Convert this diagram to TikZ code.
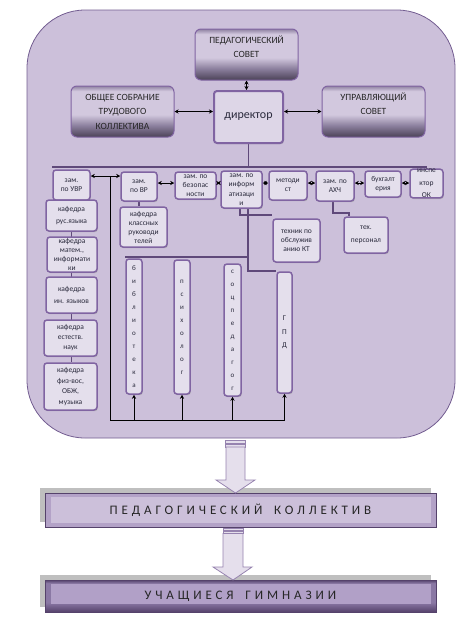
\documentclass[tikz,border=0pt]{standalone}
\usepackage{fontspec}
\setmainfont{Carlito}
\usetikzlibrary{arrows.meta,shadows,backgrounds}
\definecolor{panelfill}{HTML}{CCC0DA}
\definecolor{panelline}{HTML}{735D91}
\definecolor{boxfill}{HTML}{E4DFEC}
\definecolor{headfill}{HTML}{DDD6E7}
\definecolor{boxline}{HTML}{8064A2}
\definecolor{busline}{HTML}{5F497A}
\definecolor{inktext}{HTML}{2A2A3C}
\definecolor{shbottom}{HTML}{4B4257}
\definecolor{shlow}{HTML}{8A7E9C}
\definecolor{shlight}{HTML}{D2C8DE}
\definecolor{shtop}{HTML}{8F82A1}
\definecolor{bandfill}{HTML}{B3A2C7}
\definecolor{bandinner}{HTML}{CCC0DA}
\definecolor{pupilinner}{HTML}{B1A0C7}
\definecolor{banddark}{HTML}{55426B}
\definecolor{bandmid}{HTML}{8A78A4}
\definecolor{bandshadow}{HTML}{BFBFBF}
\definecolor{arrowfill}{HTML}{E5DFEC}
\definecolor{arrowline}{HTML}{9683AF}
\pgfdeclareverticalshading{council}{100bp}{color(0bp)=(shbottom); color(25bp)=(shbottom); color(36bp)=(shlow); color(47bp)=(shlight); color(70bp)=(shlight); color(75bp)=(shtop); color(100bp)=(shtop)}
\pgfdeclareverticalshading{pupils}{100bp}{color(0bp)=(banddark); color(25bp)=(banddark); color(40bp)=(bandmid); color(70bp)=(bandmid); color(75bp)=(banddark); color(100bp)=(banddark)}
\begin{document}
\begin{tikzpicture}[x = 1pt, y = -1pt, >= {Stealth[length = 4pt, width = 4pt]},
  box/.style = {draw = boxline, line width = 1.5pt, rounded corners = 3pt, fill = boxfill, align = center, inner sep = 0pt, text = inktext, font = \fontsize{7.5}{9}\selectfont, drop shadow = {shadow xshift = 0.8pt, shadow yshift = -1.2pt, fill = black!35, opacity = 0.7}},
  airy/.style = {box, font = \fontsize{7.5}{12.5}\selectfont},
  tall/.style = {box, font = \fontsize{7}{13}\selectfont, minimum width = 16pt},
  council/.style = {draw = boxline, line width = 1pt, rounded corners = 6pt, shading = council, align = center, inner sep = 0pt, text = black!85, font = \fontsize{9.5}{14.5}\selectfont, minimum width = 103pt, minimum height = 51pt},
  link/.style = {<->, black, line width = 0.6pt},
  feed/.style = {->, black, line width = 0.6pt},
  trunk/.style = {draw = busline, line width = 1.7pt},
  blockarrow/.style = {fill = arrowfill, draw = arrowline, line width = 0.8pt}]
\useasboundingbox (0,0) rectangle (469,630);
\node[council] (pedsov) at (246.5,54.5) {ПЕДАГОГИЧЕСКИЙ\\СОВЕТ\\[-3pt] \strut};
\node[council] (sobranie) at (122.5,111.5) {ОБЩЕЕ СОБРАНИЕ\\ТРУДОВОГО\\КОЛЛЕКТИВА};
\node[council] (upravl) at (373.5,111.5) {УПРАВЛЯЮЩИЙ\\СОВЕТ\\[-3pt] \strut};
\node[box, line width = 2pt, fill = headfill, minimum width = 69pt, minimum height = 52pt, font = \fontsize{12}{14}\selectfont] (director) at (248.5,117) {директор};
\node[box, minimum width = 37pt, minimum height = 30pt] (uvr) at (71.5,185) {зам.\\по УВР};
\node[box, minimum width = 36pt, minimum height = 29pt] (vr) at (139,186.5) {зам.\\по ВР};
\node[box, minimum width = 41pt, minimum height = 27pt] (bezop) at (195.5,185.5) {зам. по\\безопас\\ности};
\node[box, minimum width = 41pt, minimum height = 37pt, font = \fontsize{7.5}{9.5}\selectfont] (inform) at (241.5,189.5) {зам. по\\информ\\атизаци\\и};
\node[box, minimum width = 38pt, minimum height = 29pt] (metod) at (288,185.5) {методи\\ст};
\node[box, minimum width = 38pt, minimum height = 30pt] (ahch) at (335,186) {зам. по\\АХЧ};
\node[box, minimum width = 36pt, minimum height = 26pt] (buhg) at (383,184) {бухгалт\\ерия};
\node[airy, minimum width = 33pt, minimum height = 27pt] (inspekt) at (426.5,183.5) {инспе\\ктор\\ОК};
\node[airy, minimum width = 51pt, minimum height = 31pt] (kaf1) at (71.5,215.5) {кафедра\\рус.языка};
\node[box, minimum width = 50pt, minimum height = 35pt] (kaf2) at (72,254.5) {кафедра\\матем.,\\информати\\ки};
\node[airy, minimum width = 51pt, minimum height = 36pt] (kaf3) at (71.5,295) {кафедра\\ин. языков};
\node[box, minimum width = 53pt, minimum height = 36pt, font = \fontsize{7.5}{10}\selectfont] (kaf4) at (70.5,338) {кафедра\\естеств.\\наук};
\node[box, minimum width = 53pt, minimum height = 47pt, font = \fontsize{7.5}{10.5}\selectfont] (kaf5) at (70.5,386.5) {кафедра\\физ-вос,\\ОБЖ,\\музыка};
\node[box, minimum width = 47pt, minimum height = 40pt] (klass) at (143.5,227) {кафедра\\классных\\руководи\\телей};
\node[box, minimum width = 47pt, minimum height = 43pt] (tehnik) at (296.5,240.5) {техник по\\обслужив\\анию КТ};
\node[airy, minimum width = 44pt, minimum height = 36pt] (personal) at (366,235) {тех.\\персонал};
\node[tall, minimum height = 135pt] (bibl) at (134,326.5) {б\\и\\б\\л\\и\\о\\т\\е\\к\\а};
\node[tall, minimum height = 134pt] (psih) at (182,327) {п\\с\\и\\х\\о\\л\\о\\г};
\node[tall, minimum width = 17pt, minimum height = 132pt] (socped) at (232.5,330) {с\\о\\ц\\п\\е\\д\\а\\г\\о\\г};
\node[tall, minimum width = 15pt, minimum height = 121pt, font = \fontsize{7.5}{13.5}\selectfont] (gpd) at (284.5,332.5) {Г\\П\\Д};
\node[fill = bandfill, draw = banddark, line width = 0.6pt, minimum width = 391pt, minimum height = 34pt, inner sep = 0pt, text = black!85,
  font = \fontsize{13}{15}\selectfont\addfontfeature{LetterSpace = 30},
  drop shadow = {shadow xshift = -5pt, shadow yshift = 5pt, fill = bandshadow, opacity = 1},
  path picture = {\fill[bandinner] ([xshift = 6pt, yshift = 4pt]path picture bounding box.south west) rectangle ([xshift = -5pt, yshift = -4pt]path picture bounding box.north east);}] (kollektiv) at (240.5,510) {ПЕДАГОГИЧЕСКИЙ\hspace{5pt} КОЛЛЕКТИВ};
\node[shading = pupils, draw = banddark, line width = 0.6pt, minimum width = 391pt, minimum height = 32pt, inner sep = 0pt, text = black!85,
  font = \fontsize{13}{15}\selectfont\addfontfeature{LetterSpace = 30},
  drop shadow = {shadow xshift = -5pt, shadow yshift = 5pt, fill = bandshadow, opacity = 1},
  path picture = {\fill[pupilinner] ([xshift = 6pt, yshift = 8pt]path picture bounding box.south west) rectangle ([xshift = -5pt, yshift = -4pt]path picture bounding box.north east);}] (uchasch) at (240.5,596) {УЧАЩИЕСЯ\hspace{5pt} ГИМНАЗИИ};
\coordinate (bus) at (248.5,167);
\coordinate (row) at (0,183);
\coordinate (hub) at (110,176);
\coordinate (base) at (110,420);
\coordinate (split) at (248,257);
\begin{scope}[on background layer]
\filldraw[fill = panelfill, draw = panelline, line width = 0.8pt, rounded corners = 58pt] (27,10) rectangle (455,438);
\draw[trunk] (director.south) -- (bus);
\draw[trunk] (uvr.north west |- bus) -- (inspekt.north |- bus);
\draw[trunk] (uvr.south) -- (uvr.south |- kaf5.north);
\draw[trunk] (vr.south) -- (vr.south |- klass.north);
\draw[trunk] ([xshift = -1.5pt]inform.south) |- ([yshift = 3pt]tehnik.north west);
\draw[trunk] ([xshift = 6.5pt]inform.south) |- (gpd.north west);
\draw[trunk] (split) -- (split -| bibl.north west);
\draw[trunk] ([xshift = -2pt]ahch.south) |- ([xshift = 6pt, yshift = 3pt]personal.north west) -- ([xshift = 6pt]personal.north west);
\end{scope}
\draw[link] (pedsov.south) -- (pedsov.south |- director.north);
\draw[link] (sobranie.east) -- (sobranie.east -| director.west);
\draw[link] (director.east |- upravl.west) -- (upravl.west);
\draw[link] (uvr.east |- hub) -- (vr.west |- hub);
\foreach \a/\b in {vr/bezop, bezop/inform, inform/metod, metod/ahch, ahch/buhg, buhg/inspekt}
  \draw[link] (\a.east |- row) -- (\b.west |- row);
\draw[black, line width = 0.6pt] (hub) -- (base) -- (base -| gpd.south);
\foreach \n in {bibl, psih, socped, gpd}
  \draw[feed] (base -| \n.south) -- (\n.south);
\filldraw[blockarrow] (225,440) rectangle (245,443);
\filldraw[blockarrow] (225,444) rectangle (245,447);
\filldraw[blockarrow] (226,447) -- (245,447) -- (245,480) -- (255,480) -- (235.5,493) -- (216,480) -- (226,480) -- cycle;
\filldraw[blockarrow] (223,528) rectangle (243,530.5);
\filldraw[blockarrow] (223,531) rectangle (243,533.5);
\filldraw[blockarrow] (223,533.5) -- (243,533.5) -- (243,567) -- (252,567) -- (233,580) -- (213,567) -- (223,567) -- cycle;
\end{tikzpicture}
\end{document}
